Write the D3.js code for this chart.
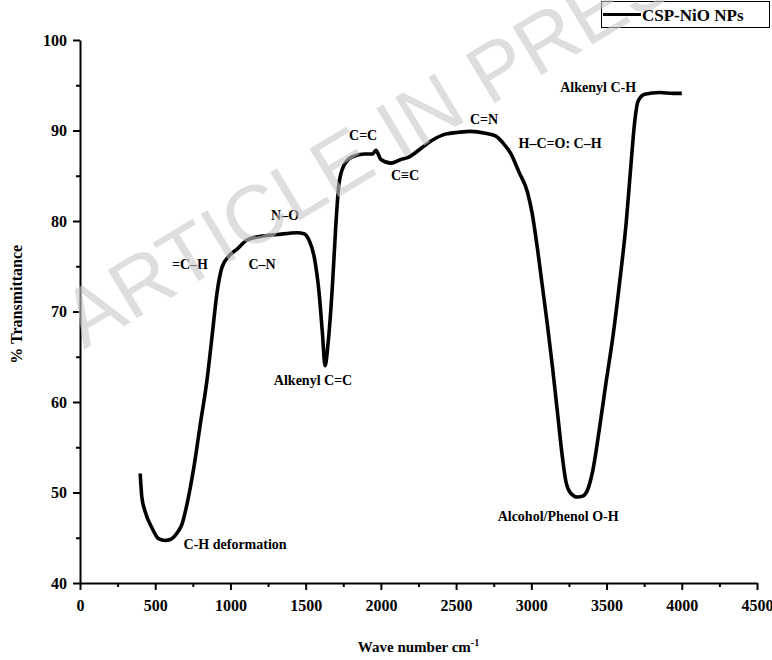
<!DOCTYPE html>
<html>
<head>
<meta charset="utf-8">
<script src="https://cdn.jsdelivr.net/npm/d3@7"></script>
<style>
  body { margin: 0; background: #fff; }
  text { font-family: "Liberation Serif", "Times New Roman", serif; font-weight: bold; }
</style>
</head>
<body>
<div id="chart"></div>
<script>
// FTIR spectrum values
var waveNumber = [400, 411, 433, 478, 522, 567, 600, 644, 678, 711, 756, 800, 844, 878, 911, 944, 989, 1044,
  1111, 1200, 1311, 1444, 1489, 1522, 1556, 1589, 1611, 1629, 1649, 1678, 1700, 1722, 1756, 1811, 1889, 1944,
  1967, 2000, 2067, 2133, 2178, 2272, 2339, 2428, 2517, 2595, 2695, 2762, 2818, 2862, 2918, 2974, 3007, 3041,
  3074, 3107, 3141, 3174, 3208, 3230, 3263, 3308, 3341, 3374, 3408, 3453, 3497, 3542, 3586, 3631, 3664, 3686,
  3709, 3753, 3853, 3942, 4000];
var transmittance = [52.1, 49.5, 47.9, 46.1, 44.9, 44.7, 44.8, 45.5, 46.5, 48.7, 52.7, 57.6, 62.4, 67.3, 72.1, 74.9, 76.1, 76.9,
  77.9, 78.3, 78.5, 78.7, 78.6, 77.9, 76.1, 72.1, 67.7, 64.0, 66.5, 72.9, 79.4, 84.2, 86.2, 87.1, 87.4, 87.4,
  87.8, 86.8, 86.4, 86.8, 87.0, 88.1, 88.9, 89.6, 89.8, 89.9, 89.7, 89.4, 88.5, 87.5, 85.4, 83.2, 80.7, 76.9,
  72.7, 68.5, 63.8, 58.8, 53.7, 51.2, 49.9, 49.5, 49.6, 50.3, 52.4, 57.1, 62.2, 67.2, 73.1, 79.9, 86.6, 90.8,
  93.2, 94.0, 94.2, 94.1, 94.1];

var xTicks = [0, 500, 1000, 1500, 2000, 2500, 3000, 3500, 4000, 4500];
var yTicks = [40, 50, 60, 70, 80, 90, 100];

// peak assignments, anchored at (wave number, % transmittance)
var peakLabels = ["Alkenyl C-H", "C=N", "H\u2013C=O: C\u2013H", "C=C", "C\u2261C", "N\u2013O", "=C\u2013H", "C\u2013N",
  "Alkenyl C=C", "C-H deformation", "Alcohol/Phenol O-H"];
var peakWave = [3444, 2686, 3191, 1882, 2161, 1363, 731, 1210, 1549, 1031, 3178];
var peakT = [94.7, 91.2, 88.6, 89.4, 85.0, 80.6, 75.2, 75.2, 62.4, 44.3, 47.3];

var seriesName = "CSP-NiO NPs";

var W = 772, H = 660;
var margin = {left: 80, right: 15, top: 40, bottom: 77};

var svg = d3.select("#chart").append("svg")
  .attr("width", W)
  .attr("height", H);

var xScale = d3.scaleLinear().domain([0, 4500]).range([margin.left, W - margin.right]);
var yScale = d3.scaleLinear().domain([40, 100]).range([H - margin.bottom, margin.top]);

var data = waveNumber.map(function(w, i) { return {w: w, t: transmittance[i]}; });

// minor ticks first, then major ticks with labels
svg.append("g")
  .attr("transform", "translate(0," + yScale(40) + ")")
  .call(d3.axisBottom(xScale).tickValues(d3.range(250, 4500, 500)).tickSize(4).tickFormat(""))
  .call(function(g) { g.select(".domain").remove(); g.selectAll("line").attr("stroke-width", 2); });
svg.append("g")
  .attr("transform", "translate(" + xScale(0) + ",0)")
  .call(d3.axisLeft(yScale).tickValues(d3.range(45, 100, 10)).tickSize(4).tickFormat(""))
  .call(function(g) { g.select(".domain").remove(); g.selectAll("line").attr("stroke-width", 2); });

var gX = svg.append("g")
  .attr("transform", "translate(0," + yScale(40) + ")")
  .call(d3.axisBottom(xScale).tickValues(xTicks).tickFormat(d3.format("d"))
    .tickSize(7).tickSizeOuter(0).tickPadding(10));
var gY = svg.append("g")
  .attr("transform", "translate(" + xScale(0) + ",0)")
  .call(d3.axisLeft(yScale).tickValues(yTicks).tickFormat(d3.format("d"))
    .tickSize(7).tickSizeOuter(0).tickPadding(6));

[gX, gY].forEach(function(g) {
  g.select(".domain").attr("stroke-width", 2);
  g.selectAll("line").attr("stroke-width", 2);
  g.selectAll("text")
    .attr("fill", "#000")
    .style("font-family", "'Liberation Serif', serif")
    .style("font-weight", "bold")
    .style("font-size", "16px");
});

// axis titles
svg.append("text")
  .attr("x", (xScale(0) + xScale(4500)) / 2)
  .attr("y", 652)
  .attr("text-anchor", "middle")
  .attr("font-size", "15px")
  .text("Wave number cm")
  .append("tspan")
  .attr("dy", "-6")
  .attr("font-size", "10px")
  .text("-1");

svg.append("text")
  .attr("transform", "translate(22," + yScale(70.8) + ") rotate(-90)")
  .attr("text-anchor", "middle")
  .attr("font-size", "16px")
  .text("% Transmittance");

// spectrum
var line = d3.line()
  .x(function(d) { return xScale(d.w); })
  .y(function(d) { return yScale(d.t); })
  .curve(d3.curveMonotoneX);

svg.append("path")
  .datum(data)
  .attr("fill", "none")
  .attr("stroke", "#000")
  .attr("stroke-width", 3.6)
  .attr("stroke-linejoin", "round")
  .attr("d", line);

// peak annotations
svg.selectAll(".peak")
  .data(peakLabels)
  .enter().append("text")
  .attr("class", "peak")
  .attr("x", function(d, i) { return xScale(peakWave[i]); })
  .attr("y", function(d, i) { return yScale(peakT[i]); })
  .attr("text-anchor", "middle")
  .attr("dominant-baseline", "central")
  .attr("font-size", "14px")
  .text(function(d) { return d; });

// legend
var legend = svg.append("g");
legend.append("rect")
  .attr("x", 601.5).attr("y", 1.5)
  .attr("width", 168).attr("height", 26)
  .attr("fill", "#fff")
  .attr("stroke", "#000")
  .attr("stroke-width", 1);
legend.append("line")
  .attr("x1", 603).attr("x2", 641)
  .attr("y1", 14.5).attr("y2", 14.5)
  .attr("stroke", "#000")
  .attr("stroke-width", 3);
legend.append("text")
  .attr("x", 642).attr("y", 15)
  .attr("dominant-baseline", "central")
  .attr("font-size", "17px")
  .text(seriesName);

// watermark
svg.append("text")
  .attr("transform", "translate(84,350) rotate(-31)")
  .style("font-family", "'Liberation Sans', Arial, sans-serif")
  .style("font-weight", "normal")
  .attr("font-size", "82px")
  .attr("fill", "rgb(200,200,200)")
  .attr("fill-opacity", 0.6)
  .text("ARTICLE IN PRESS");
</script>
</body>
</html>
